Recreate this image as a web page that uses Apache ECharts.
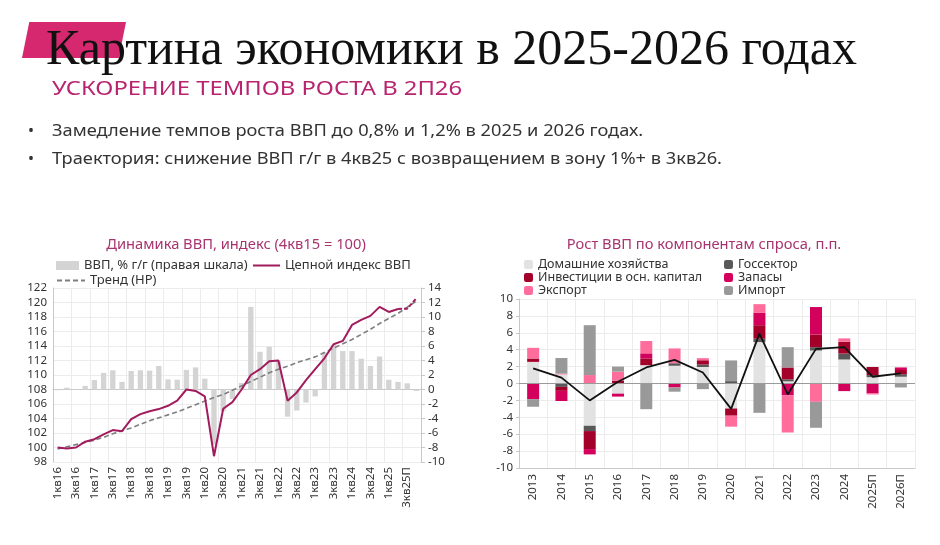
<!DOCTYPE html>
<html>
<head>
<meta charset="utf-8">
<script src="https://cdn.jsdelivr.net/npm/echarts/dist/echarts.min.js"></script>
<style>
  html, body { margin: 0; padding: 0; background: #fff; }
  #page { position: relative; width: 940px; height: 545px; overflow: hidden; }
  #chart { position: absolute; left: 0; top: 0; width: 940px; height: 545px; }
  .flag { position: absolute; left: 22px; top: 22px; width: 104px; height: 36px; background: #d6286e;
          clip-path: polygon(7% 0, 100% 0, 93% 100%, 0 100%); }
  .title { position: absolute; left: 46px; top: 19px; font-family: "Liberation Serif", serif; font-size: 50px;
           line-height: 56px; color: #111; white-space: nowrap; }
  .subtitle { position: absolute; left: 52px; top: 74px; font-family: "Noto Sans", sans-serif; font-size: 20px;
              line-height: 28px; color: #b8246f; white-space: nowrap; transform: scaleX(1.19); transform-origin: 0 50%; }
  .bullet { position: absolute; left: 28px; font-family: "Noto Sans", sans-serif; font-size: 16px; line-height: 22px;
            color: #333; white-space: nowrap; }
  .bullet span { display: inline-block; width: 24px; }
  .bullet b { font-weight: normal; display: inline-block; transform: scaleX(1.14); transform-origin: 0 50%; }
</style>
</head>
<body>
<div id="page">
  <div id="chart"></div>
  <div class="flag"></div>
  <div class="title">Картина экономики в 2025-2026 годах</div>
  <div class="subtitle">УСКОРЕНИЕ ТЕМПОВ РОСТА В 2П26</div>
  <div class="bullet" style="top:119px"><span>•</span><b>Замедление темпов роста ВВП до 0,8% и 1,2% в 2025 и 2026 годах.</b></div>
  <div class="bullet" style="top:147px"><span>•</span><b>Траектория: снижение ВВП г/г в 4кв25 с возвращением в зону 1%+ в 3кв26.</b></div>
</div>
<script>
// левый график: квартальная динамика
const quarters = ['1кв16','2кв16','3кв16','4кв16','1кв17','2кв17','3кв17','4кв17','1кв18','2кв18',
  '3кв18','4кв18','1кв19','2кв19','3кв19','4кв19','1кв20','2кв20','3кв20','4кв20',
  '1кв21','2кв21','3кв21','4кв21','1кв22','2кв22','3кв22','4кв22','1кв23','2кв23',
  '3кв23','4кв23','1кв24','2кв24','3кв24','4кв24','1кв25','2кв25','3кв25П','4кв25П'];
const gdpYoY = [-0.1, 0.25, 0.05, 0.5, 1.3, 2.3, 2.65, 1.05, 2.55, 2.65,
  2.6, 3.25, 1.4, 1.35, 2.7, 3.05, 1.5, -7.6, -3.0, -1.3,
  0.9, 11.4, 5.2, 5.9, 3.9, -3.75, -2.9, -1.8, -0.95, 5.1,
  6.15, 5.3, 5.3, 4.25, 3.25, 4.55, 1.35, 1.05, 0.85, -0.2];
const chainIndexFact = [100, 99.85, 100.0, 100.8, 101.15, 101.8, 102.4, 102.25, 103.9, 104.6,
  105.0, 105.3, 105.75, 106.45, 108.0, 107.8, 107.05, 98.8, 105.35, 106.25,
  108.0, 110.0, 110.8, 111.9, 112.0, 106.45, 107.6, 109.3, 110.8, 112.3,
  114.25, 114.7, 116.9, 117.6, 118.15, 119.4, 118.7, 119.1];
const chainIndexForecast = [119.15, 120.6];
const hpTrend = [99.8, 100.1, 100.4, 100.7, 101.0, 101.4, 101.9, 102.3, 102.7, 103.2,
  103.7, 104.1, 104.5, 104.9, 105.4, 105.9, 106.4, 106.9, 107.3, 107.9,
  108.5, 109.1, 109.7, 110.3, 110.8, 111.2, 111.7, 112.1, 112.5, 113.1,
  113.7, 114.3, 114.9, 115.6, 116.3, 117.1, 117.8, 118.5, 119.35, 120.2];

// правый график: вклады компонентов спроса
const years = ['2013','2014','2015','2016','2017','2018','2019','2020','2021','2022','2023','2024','2025П','2026П'];
const households = [2.56, 1.07, -5.0, -1.2, 2.17, 2.1, 1.95, -2.96, 4.9, 0.25, 3.9, 2.84, 0.75, 0.8];
const government = [0, -0.4, -0.63, 0, 0, 0.3, 0.3, 0.28, 0.4, 0.25, 0.4, 0.7, 0.25, 0.3];
const investment = [0.4, -0.47, -2.13, 0.35, 0.8, 0, 0.5, -0.85, 1.6, 1.4, 1.5, 1.4, 0.95, 0.5];
const inventories = [-1.85, -1.2, -0.63, -0.35, 0.6, -0.47, 0, 0, 1.46, -1.38, 3.25, -0.9, -1.18, 0.3];
const exportsC = [1.26, 0.1, 1.0, 1.05, 1.46, 1.75, 0.25, -1.3, 1.03, -4.42, -2.17, 0.4, -0.12, 0];
const importsC = [-0.9, 1.85, 5.9, 0.6, -3.04, -0.5, -0.67, 2.45, -3.47, 2.4, -3.07, 0, 0, -0.47];
const gdpGrowth = [1.8, 0.7, -2.0, 0.2, 1.9, 2.8, 1.3, -3.0, 5.9, -1.3, 4.1, 4.3, 0.8, 1.2];

const font = 'Noto Sans';
const txt = '#333';
const gridColor = '#ececec';
const axisColor = '#c8c8c8';
const dashIcon = 'path://M0,0h5v2h-5z M8,0h5v2h-5z M16,0h5v2h-5z M24,0h4v2h-4z';

const factData = quarters.map((q, i) => i < chainIndexFact.length ? chainIndexFact[i] : null);
const forecastData = quarters.map((q, i) => {
  const k = i - chainIndexFact.length;
  if (k === -1) return chainIndexFact[i];
  return k >= 0 ? chainIndexForecast[k] : null;
});

const chart = echarts.init(document.getElementById('chart'), null, { renderer: 'canvas' });

const demand = [
  ['Домашние хозяйства', households, '#e2e2e2'],
  ['Госсектор', government, '#595959'],
  ['Инвестиции в осн. капитал', investment, '#a3002a'],
  ['Запасы', inventories, '#d3005c'],
  ['Экспорт', exportsC, '#ff6d9d'],
  ['Импорт', importsC, '#999999']
];

const legendText = { fontSize: 13, color: txt, fontFamily: font, lineHeight: 15 };

const option = {
  backgroundColor: 'transparent',
  textStyle: { fontFamily: font },
  animation: false,
  graphic: [
    { type: 'text', x: 236, y: 245, style: { text: 'Динамика ВВП, индекс (4кв15 = 100)', fill: '#a8346f',
      font: '14.7px "Noto Sans"', align: 'center', verticalAlign: 'middle' } },
    { type: 'text', x: 704, y: 245, style: { text: 'Рост ВВП по компонентам спроса, п.п.', fill: '#a8346f',
      font: '14.7px "Noto Sans"', align: 'center', verticalAlign: 'middle' } }
  ],
  legend: [
    { left: 56, top: 258, itemWidth: 23, itemHeight: 9, padding: 0, textStyle: legendText,
      data: [{ name: 'ВВП, % г/г (правая шкала)', icon: 'rect' }] },
    { left: 253, top: 258, itemWidth: 27, itemHeight: 2, padding: 0, textStyle: legendText,
      data: [{ name: 'Цепной индекс ВВП', icon: 'rect' }] },
    { left: 57, top: 273, itemWidth: 28, itemHeight: 2, padding: 0, textStyle: legendText,
      data: [{ name: 'Тренд (HP)', icon: dashIcon }] },
    { left: 524, top: 258, orient: 'vertical', itemWidth: 9, itemHeight: 9, itemGap: 0, padding: 0,
      textStyle: { fontSize: 12.5, color: txt, fontFamily: font, lineHeight: 13 },
      data: ['Домашние хозяйства', 'Инвестиции в осн. капитал', 'Экспорт'] },
    { left: 724, top: 258, orient: 'vertical', itemWidth: 9, itemHeight: 9, itemGap: 0, padding: 0,
      textStyle: { fontSize: 12.5, color: txt, fontFamily: font, lineHeight: 13 },
      data: ['Госсектор', 'Запасы', 'Импорт'] }
  ],
  grid: [
    { left: 53, right: 519, top: 288, bottom: 83, outerBoundsMode: 'none' },
    { left: 519, right: 25, top: 299, bottom: 77, outerBoundsMode: 'none' }
  ],
  xAxis: [
    { type: 'category', gridIndex: 0, data: quarters, boundaryGap: true,
      axisLine: { lineStyle: { color: axisColor } }, axisTick: { show: false },
      axisLabel: { rotate: 90, interval: 1, color: txt, fontSize: 11.5, margin: 5, fontFamily: font },
      splitLine: { show: true, interval: 1, lineStyle: { color: gridColor } } },
    { type: 'category', gridIndex: 1, data: years, boundaryGap: true,
      axisLine: { onZero: false, lineStyle: { color: axisColor } }, axisTick: { show: false },
      axisLabel: { rotate: 90, interval: 0, color: txt, fontSize: 11.5, margin: 6, fontFamily: font },
      splitLine: { show: true, interval: 0, lineStyle: { color: gridColor } } }
  ],
  yAxis: [
    { type: 'value', gridIndex: 0, min: 98, max: 122, interval: 2,
      axisLine: { show: true, lineStyle: { color: axisColor } }, axisTick: { show: false },
      axisLabel: { color: txt, fontSize: 11.5, margin: 6, fontFamily: font },
      splitLine: { lineStyle: { color: gridColor } } },
    { type: 'value', gridIndex: 0, position: 'right', min: -10, max: 14, interval: 2,
      axisLine: { show: true, lineStyle: { color: axisColor } },
      axisTick: { show: true, length: 4, lineStyle: { color: axisColor } },
      axisLabel: { color: txt, fontSize: 11.5, margin: 7, fontFamily: font },
      splitLine: { show: false } },
    { type: 'value', gridIndex: 1, min: -10, max: 10, interval: 2,
      axisLine: { show: true, lineStyle: { color: axisColor } },
      axisTick: { show: true, length: 3, lineStyle: { color: axisColor } },
      axisLabel: { color: txt, fontSize: 11.5, margin: 6, fontFamily: font },
      splitLine: { lineStyle: { color: gridColor } } }
  ],
  series: [
    { name: 'ВВП, % г/г (правая шкала)', type: 'bar', xAxisIndex: 0, yAxisIndex: 1,
      data: gdpYoY, barWidth: '58%', itemStyle: { color: '#d4d4d4' } },
    { name: 'Тренд (HP)', type: 'line', xAxisIndex: 0, yAxisIndex: 0, data: hpTrend,
      symbol: 'none', lineStyle: { color: '#7f7f7f', width: 1.6, type: [5, 3] }, itemStyle: { color: '#7f7f7f' } },
    { name: 'Цепной индекс ВВП', type: 'line', xAxisIndex: 0, yAxisIndex: 0, data: factData,
      symbol: 'none', lineStyle: { color: '#a21b5d', width: 2 }, itemStyle: { color: '#a21b5d' } },
    { name: 'Цепной индекс ВВП, прогноз', type: 'line', xAxisIndex: 0, yAxisIndex: 0, data: forecastData,
      symbol: 'none', lineStyle: { color: '#a21b5d', width: 2, type: [4, 2] } }
  ].concat(demand.map(([name, values, color]) => ({
    name, type: 'bar', stack: 'demand', xAxisIndex: 1, yAxisIndex: 2,
    data: values, barWidth: 12, itemStyle: { color }
  }))).concat([
    { name: 'Рост ВВП', type: 'line', xAxisIndex: 1, yAxisIndex: 2, data: gdpGrowth, z: 5,
      symbol: 'none', lineStyle: { color: '#111', width: 1.8 },
      markLine: { silent: true, symbol: 'none', label: { show: false },
        lineStyle: { color: '#9a9a9a', width: 1, type: 'solid' }, data: [{ yAxis: 0 }] } }
  ])
};

chart.setOption(option);
</script>
</body>
</html>
